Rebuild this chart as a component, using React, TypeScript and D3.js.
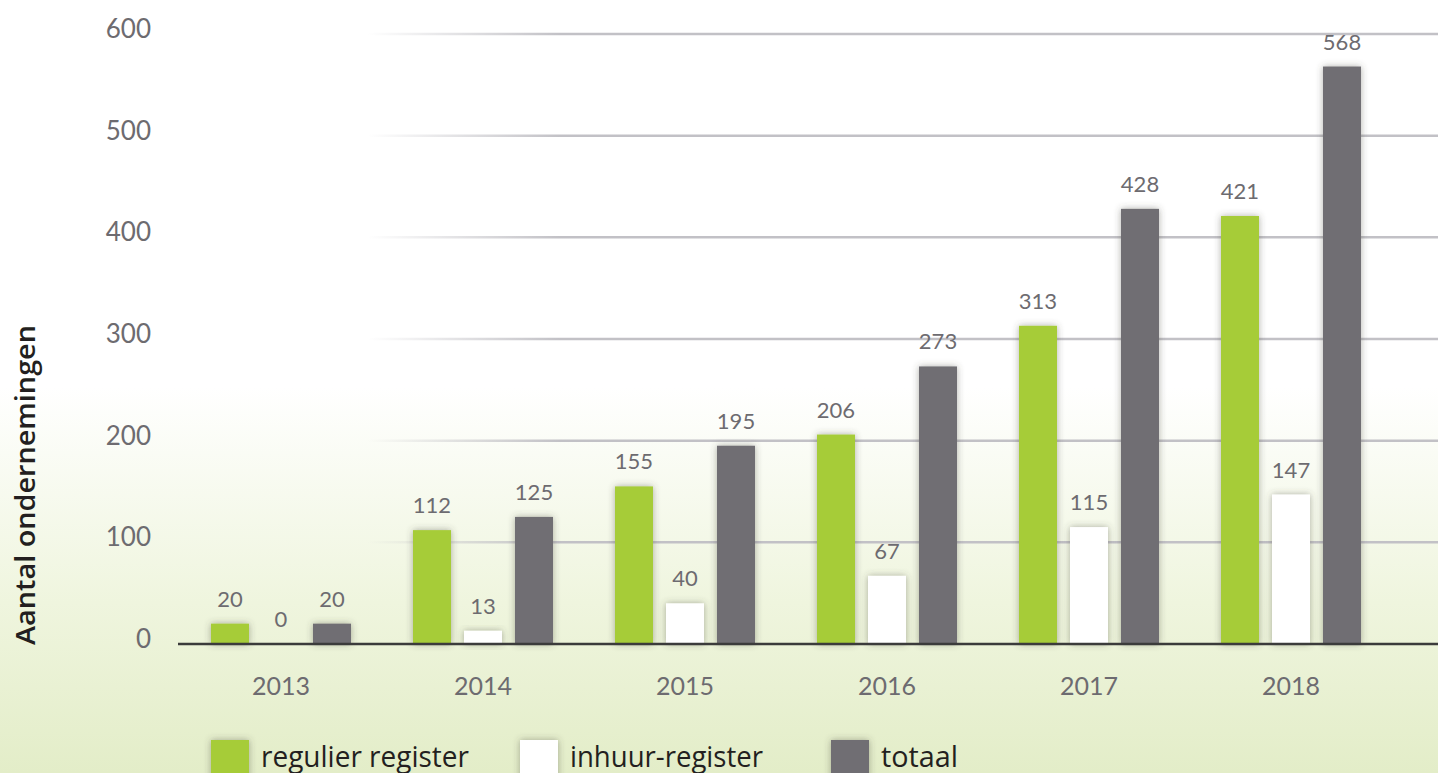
import React from 'react';
import { scaleBand, scaleLinear } from 'd3';

const years = ['2013', '2014', '2015', '2016', '2017', '2018'];
const regulier = [20, 112, 155, 206, 313, 421];
const inhuur = [0, 13, 40, 67, 115, 147];
const totaal = [20, 125, 195, 273, 428, 568];
const yTicks = [0, 100, 200, 300, 400, 500, 600];
const seriesNames = ['regulier register', 'inhuur-register', 'totaal'];
const seriesColors = ['#a6cc38', '#ffffff', '#6f6e73'];

const W = 1438;
const H = 773;

export default function App() {
  const series = [regulier, inhuur, totaal];

  const x = scaleBand().domain(years).range([180, 1392]).padding(0);
  const inner = scaleBand()
    .domain(seriesNames)
    .range([31, 171])
    .paddingInner(0.255)
    .paddingOuter(0);
  const y = scaleLinear().domain([0, 600]).range([644, 34]);

  const legendX = [211, 520, 831];

  return (
    <div style={{ position: 'absolute', left: 0, top: 0 }}>
      <svg width={W} height={H} style={{ display: 'block' }}>
        <defs>
          <linearGradient id="bg" x1="0" y1="0" x2="0" y2="1">
            <stop offset="0" stopColor="#ffffff" />
            <stop offset="0.5" stopColor="#ffffff" />
            <stop offset="0.78" stopColor="#eff5de" />
            <stop offset="1" stopColor="#e3edc8" />
          </linearGradient>
          <linearGradient id="grid" gradientUnits="userSpaceOnUse" x1="368" y1="0" x2="560" y2="0">
            <stop offset="0" stopColor="#c2c1c6" stopOpacity="0" />
            <stop offset="1" stopColor="#c2c1c6" stopOpacity="1" />
          </linearGradient>
          <filter id="shadow" x="-40%" y="-40%" width="180%" height="180%">
            <feDropShadow dx="0" dy="0" stdDeviation="3.5" floodColor="#4a4a40" floodOpacity="0.45" />
          </filter>
        </defs>

        <rect x={0} y={0} width={W} height={H} fill="url(#bg)" />

        {yTicks.filter(t => t > 0).map(t => (
          <line key={t} x1={368} x2={W} y1={y(t)} y2={y(t)} stroke="url(#grid)" strokeWidth={2.5} />
        ))}

        {yTicks.map(t => (
          <text
            key={t}
            x={151}
            y={y(t) + 4}
            textAnchor="end"
            fontFamily="Lato, 'Open Sans', sans-serif"
            fontSize={26}
            fill="#6d6b70"
          >
            {t}
          </text>
        ))}

        <text
          transform="translate(35,485) rotate(-90)"
          textAnchor="middle"
          fontFamily="'Open Sans', sans-serif"
          fontWeight={600}
          fontSize={27}
          fill="#231f20"
          textLength={320}
          lengthAdjust="spacingAndGlyphs"
        >
          Aantal ondernemingen
        </text>

        {years.map((yr, i) => (
          <g key={yr} transform={`translate(${x(yr)},0)`}>
            {series.map((s, j) => {
              const v = s[i];
              const bx = inner(seriesNames[j]) as number;
              const bw = inner.bandwidth();
              return (
                <g key={j}>
                  {v > 0 && (
                    <rect
                      x={bx}
                      y={y(v)}
                      width={bw}
                      height={y(0) - y(v)}
                      fill={seriesColors[j]}
                      filter="url(#shadow)"
                    />
                  )}
                  <text
                    x={bx + bw / 2}
                    y={y(v) - 17}
                    textAnchor="middle"
                    fontFamily="Lato, 'Open Sans', sans-serif"
                    fontSize={22}
                    fill="#6d6b70"
                  >
                    {v}
                  </text>
                </g>
              );
            })}
            <text
              x={x.bandwidth() / 2}
              y={695}
              textAnchor="middle"
              fontFamily="Lato, 'Open Sans', sans-serif"
              fontSize={25}
              fill="#6d6b70"
            >
              {yr}
            </text>
          </g>
        ))}

        <line x1={178} x2={W} y1={y(0)} y2={y(0)} stroke="#3b3b3b" strokeWidth={2.5} />

        {seriesNames.map((name, j) => (
          <g key={name}>
            <rect
              x={legendX[j]}
              y={740}
              width={38}
              height={40}
              fill={seriesColors[j]}
              filter="url(#shadow)"
            />
            <text
              x={legendX[j] + 50}
              y={767}
              fontFamily="'Open Sans', sans-serif"
              fontSize={29}
              fill="#231f20"
              textLength={[208, 193, 77][j]}
              lengthAdjust="spacingAndGlyphs"
            >
              {name}
            </text>
          </g>
        ))}
      </svg>
    </div>
  );
}
